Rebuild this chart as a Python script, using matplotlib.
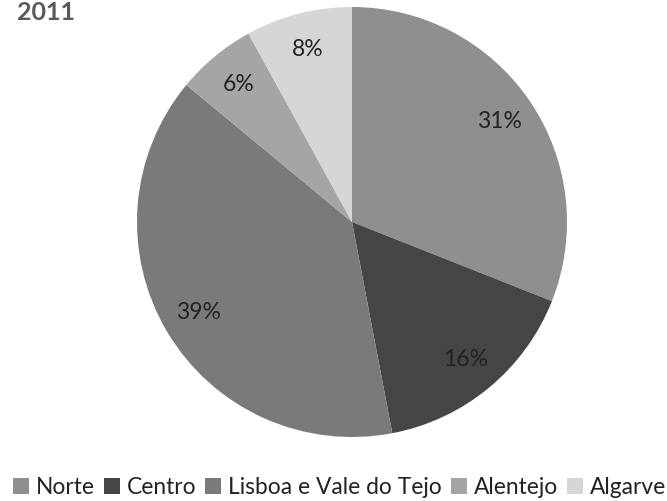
import matplotlib
matplotlib.use("Agg")
import matplotlib.pyplot as plt
from matplotlib.patches import Patch

regions = ["Norte", "Centro", "Lisboa e Vale do Tejo", "Alentejo", "Algarve"]
shares = [31, 16, 39, 6, 8]
colors = ["#8f8f8f", "#454545", "#7a7a7a", "#a5a5a5", "#d6d6d6"]
title = "2011"

plt.rcParams['font.family'] = ['Lato', 'DejaVu Sans']

fig = plt.figure(figsize=(6.67, 5.01), dpi=100)
ax = fig.add_axes([137 / 667, 1 - 437 / 501, 430 / 667, 430 / 501])

wedges, texts = ax.pie(shares, colors=colors, startangle=90, counterclock=False,
                       labels=[f"{v}%" for v in shares], labeldistance=0.83,
                       wedgeprops=dict(linewidth=0),
                       textprops=dict(fontsize=16.5, color="#222222"))
for t in texts:
    t.set_ha("center")
    t.set_va("center")
ax.set_aspect("equal")
ax.set_xlim(-1, 1)
ax.set_ylim(-1, 1)
ax.axis("off")

fig.text(17 / 667, 1 - 1 / 501, title, fontsize=18, fontweight="bold",
         color="#595959", ha="left", va="top")

handles = [Patch(facecolor=c, edgecolor="none") for c in colors]
fig.legend(handles, regions, loc="center", bbox_to_anchor=(0.509, 1 - 487 / 501),
           ncol=5, frameon=False, fontsize=16.4, handlelength=0.7, handleheight=0.7,
           handletextpad=0.3, columnspacing=0.4, labelcolor="#222222")

fig.savefig("out.png", dpi=100)
